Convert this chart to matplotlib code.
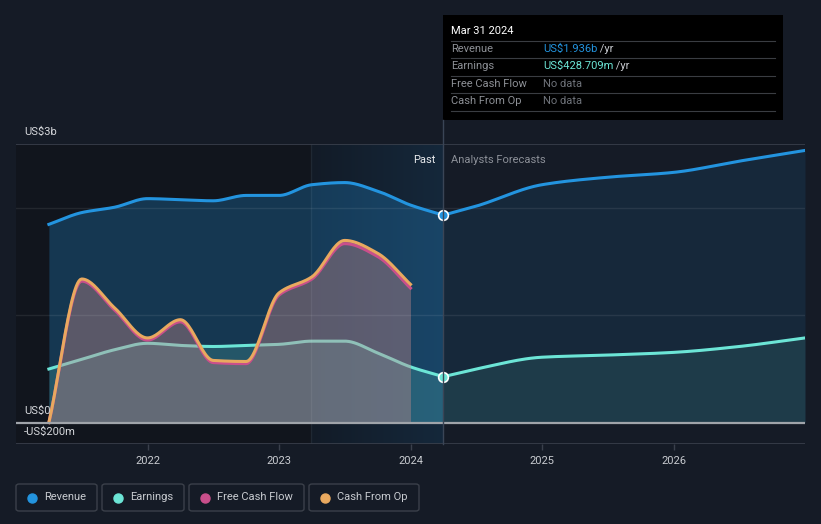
import matplotlib
matplotlib.use("Agg")
import matplotlib.pyplot as plt
from matplotlib.patches import Rectangle, FancyBboxPatch
from matplotlib.lines import Line2D
from matplotlib.colors import LinearSegmentedColormap
import numpy as np

# data (US$ billions, decimal years)
past_t = [2021.25, 2021.5, 2021.75, 2022.0, 2022.25, 2022.5, 2022.75,
          2023.0, 2023.25, 2023.5, 2023.75, 2024.0, 2024.25]
revenue_past = [1.85, 1.96, 2.01, 2.09, 2.08, 2.07, 2.12, 2.12, 2.22, 2.24, 2.16, 2.03, 1.936]
earnings_past = [0.50, 0.59, 0.68, 0.74, 0.72, 0.71, 0.72, 0.73, 0.76, 0.76, 0.65, 0.52, 0.4287]

cash_t = past_t[:-1]
cash_from_op = [0.0, 1.34, 1.07, 0.79, 0.96, 0.58, 0.57, 1.21, 1.36, 1.70, 1.58, 1.29]
free_cash_flow = [0.0, 1.32, 1.05, 0.77, 0.94, 0.56, 0.55, 1.19, 1.34, 1.67, 1.55, 1.255]

fc_t = [2024.25, 2024.5, 2025.0, 2025.5, 2026.0, 2026.5, 2027.0]
revenue_fc = [1.936, 2.02, 2.22, 2.29, 2.335, 2.44, 2.54]
earnings_fc = [0.4287, 0.50, 0.61, 0.63, 0.655, 0.71, 0.79]

years = [2022, 2023, 2024, 2025, 2026]
legend_names = ["Revenue", "Earnings", "Free Cash Flow", "Cash From Op"]

BG = "#151b26"
C_REV = "#2394df"
C_EARN = "#6ce5d6"
C_FCF = "#c94f8b"
C_CFO = "#e9a95f"

W, H = 821, 524


def fx(px):
    return px / W


def fy(py):
    return 1 - py / H


def smooth(x, y, n=24):
    # monotone cubic drawing of the line through the read points
    x = np.asarray(x, float)
    y = np.asarray(y, float)
    h = np.diff(x)
    d = np.diff(y) / h
    m = np.zeros_like(y)
    m[0] = d[0]
    m[-1] = d[-1]
    for i in range(1, len(y) - 1):
        if d[i - 1] * d[i] <= 0:
            m[i] = 0
        else:
            w1 = 2 * h[i] + h[i - 1]
            w2 = h[i] + 2 * h[i - 1]
            m[i] = (w1 + w2) / (w1 / d[i - 1] + w2 / d[i])
    xs, ys = [], []
    t = np.linspace(0, 1, n, endpoint=False)
    h00 = 2 * t**3 - 3 * t**2 + 1
    h10 = t**3 - 2 * t**2 + t
    h01 = -2 * t**3 + 3 * t**2
    h11 = t**3 - t**2
    for i in range(len(x) - 1):
        xs.append(x[i] + t * h[i])
        ys.append(h00 * y[i] + h10 * h[i] * m[i] + h01 * y[i + 1] + h11 * h[i] * m[i + 1])
    xs.append([x[-1]])
    ys.append([y[-1]])
    return np.concatenate(xs), np.concatenate(ys)


plt.rcParams['font.family'] = ['Roboto', 'DejaVu Sans']

fig = plt.figure(figsize=(8.21, 5.24), dpi=100, facecolor=BG)
ax = fig.add_axes([fx(16), fy(444), fx(805) - fx(16), (444 - 144) / H])
ax.set_facecolor(BG)
ax.set_xlim(2021.0, 2027.0)
ax.set_ylim(-0.2, 2.6)

# background bands
ax.axvspan(2021.0, 2023.24, color="#11151d", zorder=0, lw=0)
grad = np.linspace(0, 1, 256).reshape(1, -1)
cmap = LinearSegmentedColormap.from_list("hl", ["#121b27", "#15283b"])
ax.imshow(grad, extent=[2023.24, 2024.25, -0.2, 2.6], aspect="auto", cmap=cmap, zorder=0.5)
ax.axvline(2023.24, color="white", alpha=0.06, lw=1, zorder=5)

# revenue
rx, ry = smooth(past_t, revenue_past)
ax.fill_between(rx, 0, ry, color=C_REV, alpha=0.27, lw=0, zorder=2)
rfx, rfy = smooth(fc_t, revenue_fc)
ax.fill_between(rfx, 0, rfy, color=C_REV, alpha=0.11, lw=0, zorder=2)
ax.plot(rx, ry, color=C_REV, lw=2.2, zorder=6)
ax.plot(rfx, rfy, color=C_REV, lw=2.2, zorder=6)

# earnings
ex, ey = smooth(past_t, earnings_past)
ax.fill_between(ex, 0, ey, color=C_EARN, alpha=0.18, lw=0, zorder=3)
efx, efy = smooth(fc_t, earnings_fc)
ax.fill_between(efx, 0, efy, color=C_EARN, alpha=0.1, lw=0, zorder=3)
ax.plot(ex, ey, color=C_EARN, lw=2.2, zorder=3.5)
ax.plot(efx, efy, color=C_EARN, lw=2.2, zorder=6)

# cash flows
cx, cy = smooth(cash_t, cash_from_op)
ax.fill_between(cx, 0, cy, color="#c48a8c", alpha=0.4, lw=0, zorder=4)
px_, py_ = smooth(cash_t, free_cash_flow)
ax.plot(px_, py_, color=C_FCF, lw=2.2, zorder=7)
ax.plot(cx, cy, color=C_CFO, lw=2.2, zorder=7)

# grid lines
for v in [1, 2]:
    ax.axhline(v, color="white", alpha=0.08, lw=1, zorder=5)
ax.axhline(2.6, color="#3a404c", lw=1.2, zorder=5)
ax.axhline(-0.2, color="#3a404c", lw=1.2, zorder=5)

# zero line
ax.axhline(0, color="#a0a4aa", lw=1.6, zorder=8)

# markers at the latest reported point
ax.plot([past_t[-1]], [revenue_past[-1]], "o", ms=7, mfc=C_REV, mec="white", mew=1.2, zorder=9)
ax.plot([past_t[-1]], [earnings_past[-1]], "o", ms=7, mfc=C_EARN, mec="white", mew=1.2, zorder=9)

# axes styling
for s in ax.spines.values():
    s.set_visible(False)
ax.set_yticks([])
ax.set_xticks(years)
ax.set_xticklabels([str(y) for y in years])
ax.tick_params(axis="x", colors="#3a404c", length=4, width=1, pad=5, labelcolor="#c8cbd0", labelsize=8)

ax.text(2024.19, 2.45, "Past", color="#e8eaed", fontsize=8, ha="right", va="center", zorder=10)
ax.text(2024.31, 2.45, "Analysts Forecasts", color="#8c9098", fontsize=8, ha="left", va="center", zorder=10)

# y labels
fig.text(fx(24), fy(132), "US$3b", color="#d6d8dc", fontsize=8, va="center")
fig.text(fx(24), fy(411), "US$0", color="#d6d8dc", fontsize=8, va="center")
fig.text(fx(24), fy(432), "-US$200m", color="#d6d8dc", fontsize=8, va="center")

# divider line up to tooltip
fig.add_artist(Line2D([fx(443), fx(443)], [fy(444), fy(120)], color="#3a4556", lw=1))

# tooltip
fig.add_artist(Rectangle((fx(443), fy(120)), fx(783) - fx(443), (120 - 15) / H,
                         facecolor="black", edgecolor="none"))
fig.text(fx(451), fy(31), "Mar 31 2024", color="white", fontsize=8, va="center")
rows = [("Revenue", "US$1.936b", C_REV, " /yr"),
        ("Earnings", "US$428.709m", C_EARN, " /yr"),
        ("Free Cash Flow", "No data", "#6f737a", ""),
        ("Cash From Op", "No data", "#6f737a", "")]
row_y = [49, 66, 84, 101]
for yy in [41, 58, 76, 93, 111]:
    fig.add_artist(Line2D([fx(451), fx(775)], [fy(yy), fy(yy)], color="#3a3d42", lw=0.8))
for (name, val, col, unit), yy in zip(rows, row_y):
    fig.text(fx(451), fy(yy), name, color="#8d9096", fontsize=8, va="center")
    t = fig.text(fx(543), fy(yy), val, color=col, fontsize=8, va="center")
    if unit:
        fig.canvas.draw()
        bb = t.get_window_extent()
        fig.text(bb.x1 / W, fy(yy), unit, color="#c8cbd0", fontsize=8, va="center")

# legend boxes
boxes = [(16, 97), (102, 184), (189, 304), (309, 419)]
dot_cols = [C_REV, C_EARN, C_FCF, C_CFO]
for (x0, x1), name, col in zip(boxes, legend_names, dot_cols):
    fig.add_artist(FancyBboxPatch((fx(x0), fy(511)), fx(x1) - fx(x0), (511 - 484) / H,
                                  boxstyle="round,pad=0,rounding_size=0.004",
                                  facecolor="none", edgecolor="#3b404a", lw=1))
    fig.add_artist(Line2D([fx(x0 + 16)], [fy(497.5)], marker="o", ms=6.5, color=col, lw=0))
    fig.text(fx(x0 + 28), fy(497.5), name, color="#c8cbd0", fontsize=8, va="center")

plt.savefig("out.png", dpi=100, facecolor=BG)
